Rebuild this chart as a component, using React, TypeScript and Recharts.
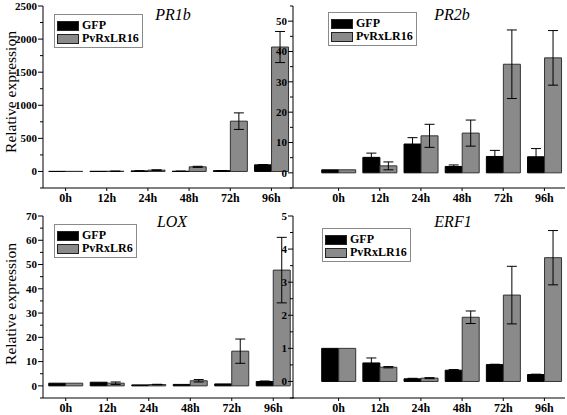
import React from 'react';
import { BarChart, Bar, XAxis, YAxis, ErrorBar, Legend } from 'recharts';

const categories = ['0h', '12h', '24h', '48h', '72h', '96h'];

const pr1bGfp = [1, 2, 8, 3, 12, 100];
const pr1bGfpErr = [0, 0, 2, 1, 2, 5];
const pr1bPvrx = [1, 3, 20, 70, 760, 1880];
const pr1bPvrxErr = [0, 2, 5, 8, 125, 235];
const pr1bMajor = [0, 500, 1000, 1500, 2000, 2500];
const pr1bMinor = [-250, 250, 750, 1250, 1750, 2250];

const pr2bGfp = [1, 5.1, 9.5, 2.1, 5.4, 5.3];
const pr2bGfpErr = [0, 1.4, 2.1, 0.5, 2, 2.7];
const pr2bPvrx = [1, 2.3, 12.2, 13.1, 35.8, 37.9];
const pr2bPvrxErr = [0, 1.3, 3.8, 4.3, 11.3, 9];
const pr2bMajor = [0, 10, 20, 30, 40, 50];
const pr2bMinor = [-5, 5, 15, 25, 35, 45, 55];

const loxGfp = [1.1, 1.5, 0.4, 0.6, 0.8, 1.8];
const loxGfpErr = [0, 0, 0, 0, 0, 0.2];
const loxPvrx = [1.1, 1.1, 0.55, 2.1, 14.3, 47.7];
const loxPvrxErr = [0, 0.5, 0.1, 0.5, 5, 13.5];
const loxMajor = [0, 10, 20, 30, 40, 50, 60, 70];
const loxMinor = [-5, 5, 15, 25, 35, 45, 55, 65];

const erf1Gfp = [1, 0.56, 0.08, 0.34, 0.51, 0.21];
const erf1GfpErr = [0, 0.15, 0.015, 0.02, 0.01, 0.01];
const erf1Pvrx = [1, 0.43, 0.1, 1.94, 2.61, 3.74];
const erf1PvrxErr = [0, 0.02, 0.015, 0.19, 0.87, 0.82];
const erf1Major = [0, 1, 2, 3, 4, 5];
const erf1Minor = [-0.5, 0.5, 1.5, 2.5, 3.5, 4.5];

const SERIF = '"Liberation Serif", "Times New Roman", Times, serif';
const GRAY = '#8a8a8a';

const buildData = (g: number[], ge: number[], p: number[], pe: number[]) =>
  categories.map((c, i) => ({ cat: c, gfp: g[i], gfpErr: ge[i], pvrx: p[i], pvrxErr: pe[i] }));

const makeYTick = (axisX: number, majors: number[]) => (props: any) => {
  const { y, payload } = props;
  const v = payload.value;
  const major = majors.includes(v);
  return (
    <g>
      <line x1={axisX - (major ? 5 : 3)} x2={axisX} y1={y} y2={y} stroke="#000" strokeWidth={1} />
      {major && (
        <text x={axisX - 6} y={y} dy="0.35em" textAnchor="end" style={{ fontFamily: SERIF, fontWeight: 'bold', fontSize: 11 }} fill="#000">
          {v}
        </text>
      )}
    </g>
  );
};

const XTick = (props: any) => {
  const { x, y, payload } = props;
  return (
    <text x={x} y={y} dy="0.75em" textAnchor="middle" style={{ fontFamily: SERIF, fontWeight: 'bold', fontSize: 12 }} fill="#000">
      {payload.value}
    </text>
  );
};

const LegendBox = (props: any) => {
  const { payload } = props;
  return (
    <div style={{ border: '1px solid #8a8a8a', background: '#fff', padding: '4px 3px 2px 2px' }}>
      {(payload || []).map((e: any) => (
        <div key={e.value} style={{ display: 'flex', alignItems: 'center', height: 13 }}>
          <div style={{ width: 20, height: 8, background: e.color, border: '1px solid #222', marginRight: 3 }} />
          <span style={{ fontFamily: SERIF, fontWeight: 'bold', fontSize: 12, color: '#000', lineHeight: '13px' }}>{e.value}</span>
        </div>
      ))}
    </div>
  );
};

type PanelProps = {
  left: number;
  top: number;
  width: number;
  height: number;
  marginTop: number;
  padLeft: number;
  marginRight: number;
  data: any[];
  domain: [number, number];
  majors: number[];
  minors: number[];
  title: string;
  titleX: number;
  titleY: number;
  series2: string;
  legendX: number;
  legendY: number;
  yLabel: boolean;
  yLabelCy: number;
};

const Panel = (p: PanelProps) => {
  const yw = 43;
  const ticks = [...p.minors, ...p.majors].sort((a, b) => a - b);
  return (
    <div style={{ position: 'absolute', left: p.left, top: p.top, width: p.width, height: p.height }}>
      <BarChart
        width={p.width}
        height={p.height}
        data={p.data}
        margin={{ top: p.marginTop, right: p.marginRight, left: 0, bottom: 0 }}
        barCategoryGap="9%"
        barGap={0}
      >
        <XAxis
          dataKey="cat"
          height={18}
          padding={{ left: p.padLeft, right: 0 }}
          axisLine={{ stroke: '#000', strokeWidth: 1 }}
          tickLine={{ stroke: '#000' }}
          tickSize={3}
          tickMargin={2}
          tick={<XTick />}
          interval={0}
        />
        <YAxis
          width={yw}
          type="number"
          domain={p.domain}
          ticks={ticks}
          interval={0}
          allowDataOverflow
          axisLine={{ stroke: '#000', strokeWidth: 1 }}
          tickLine={false}
          tickSize={5}
          tickMargin={1}
          tick={makeYTick(yw, p.majors)}
        />
        <Legend
          layout="vertical"
          align="center"
          verticalAlign="middle"
          content={<LegendBox />}
          wrapperStyle={{ left: p.legendX, top: p.legendY, width: 'auto' }}
        />
        <Bar dataKey="gfp" name="GFP" fill="#000" stroke="#000" strokeWidth={1} isAnimationActive={false}>
          <ErrorBar dataKey="gfpErr" width={5} stroke="#000" strokeWidth={1} />
        </Bar>
        <Bar dataKey="pvrx" name={p.series2} fill={GRAY} stroke="#333" strokeWidth={1} isAnimationActive={false}>
          <ErrorBar dataKey="pvrxErr" width={5} stroke="#000" strokeWidth={1} />
        </Bar>
      </BarChart>
      <div
        style={{
          position: 'absolute',
          left: p.titleX - 40,
          top: p.titleY - 10,
          width: 80,
          textAlign: 'center',
          fontFamily: SERIF,
          fontStyle: 'italic',
          fontSize: 16,
          lineHeight: '20px',
          color: '#000',
        }}
      >
        {p.title}
      </div>
      {p.yLabel && (
        <div
          style={{
            position: 'absolute',
            left: 11 - 80,
            top: p.yLabelCy - 10,
            width: 160,
            height: 20,
            lineHeight: '20px',
            textAlign: 'center',
            transform: 'rotate(-90deg)',
            fontFamily: SERIF,
            fontSize: 15.5,
            color: '#000',
            whiteSpace: 'nowrap',
          }}
        >
          Relative expression
        </div>
      )}
    </div>
  );
};

export default function App() {
  return (
    <div style={{ position: 'absolute', left: 0, top: 0, width: 567, height: 415, background: '#fff', overflow: 'hidden' }}>
      <Panel
        left={0}
        top={0}
        width={293}
        height={206}
        marginTop={6}
        padLeft={2}
        marginRight={1}
        data={buildData(pr1bGfp, pr1bGfpErr, pr1bPvrx, pr1bPvrxErr)}
        domain={[-250, 2500]}
        majors={pr1bMajor}
        minors={pr1bMinor}
        title="PR1b"
        titleX={173}
        titleY={15}
        series2="PvRxLR16"
        legendX={54}
        legendY={14}
        yLabel
        yLabelCy={92}
      />
      <Panel
        left={250}
        top={0}
        width={317}
        height={206}
        marginTop={6}
        padLeft={25}
        marginRight={2}
        data={buildData(pr2bGfp, pr2bGfpErr, pr2bPvrx, pr2bPvrxErr)}
        domain={[-5, 55]}
        majors={pr2bMajor}
        minors={pr2bMinor}
        title="PR2b"
        titleX={202}
        titleY={15}
        series2="PvRxLR16"
        legendX={78}
        legendY={12}
        yLabel={false}
        yLabelCy={0}
      />
      <Panel
        left={0}
        top={205}
        width={294}
        height={211}
        marginTop={11}
        padLeft={2}
        marginRight={0}
        data={buildData(loxGfp, loxGfpErr, loxPvrx, loxPvrxErr)}
        domain={[-5, 70]}
        majors={loxMajor}
        minors={loxMinor}
        title="LOX"
        titleX={172}
        titleY={17}
        series2="PvRxLR6"
        legendX={54}
        legendY={19}
        yLabel
        yLabelCy={99}
      />
      <Panel
        left={250}
        top={205}
        width={317}
        height={211}
        marginTop={11}
        padLeft={25}
        marginRight={2}
        data={buildData(erf1Gfp, erf1GfpErr, erf1Pvrx, erf1PvrxErr)}
        domain={[-0.5, 5]}
        majors={erf1Major}
        minors={erf1Minor}
        title="ERF1"
        titleX={203}
        titleY={17}
        series2="PvRxLR16"
        legendX={72}
        legendY={23}
        yLabel={false}
        yLabelCy={0}
      />
    </div>
  );
}
